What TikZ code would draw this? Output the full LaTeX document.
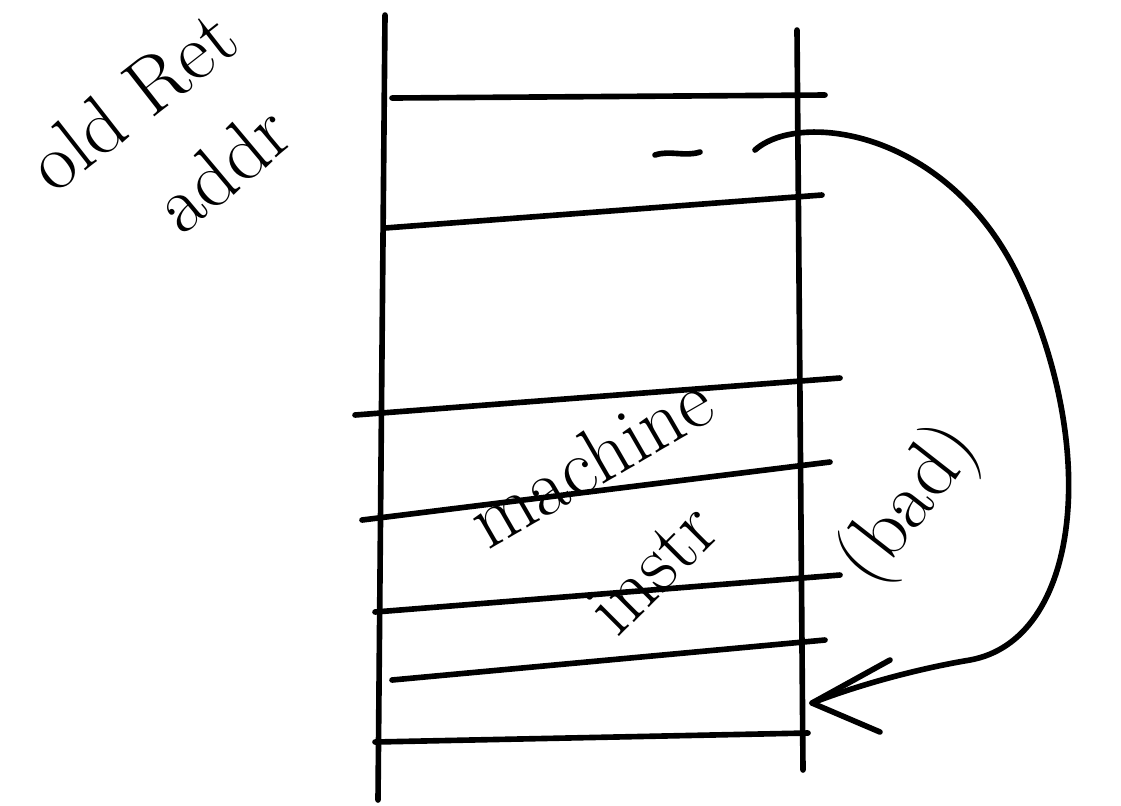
\documentclass[tikz,border=0pt]{standalone}
\usepackage{xcolor}
\definecolor{sketchink}{HTML}{000000}

\begin{document}
\begin{tikzpicture}[
  x=0.01cm,
  y=-0.01cm,
  every node/.style={font=\fontsize{23}{25}\selectfont, text=sketchink, inner sep=1pt},
  pen/.style={sketchink, line width=1.6pt, line cap=round, line join=round},
  >=stealth
]
  \useasboundingbox (0,0) rectangle (1121,805);

  % stack walls
  \draw[pen] (385,15) -- (378,800);
  \draw[pen] (797,30) -- (803,770);

  % slots
  \draw[pen] (392,98) -- (825,95);
  \draw[pen] (385,228) -- (822,195);
  \draw[pen] (355,415) -- (840,378);
  \draw[pen] (362,520) -- (830,462);
  \draw[pen] (375,612) -- (840,575);
  \draw[pen] (392,680) -- (825,640);
  \draw[pen] (375,742) -- (808,733);

  % small mark in the return slot
  \draw[pen] (655,155) .. controls (670,150) and (685,157) .. (700,152);

  % labels
  \node[rotate=38] (oldret) at (132,100) {old Ret};
  \node[rotate=40] (addr) at (222,168) {addr};
  \node[rotate=30] (mach) at (590,460) {machine};
  \node[rotate=45] (instr) at (652,568) {instr};
  \node[rotate=52] (bad) at (910,505) {(bad)};

  % jump arrow
  \coordinate (from) at (755,150);
  \coordinate (to) at (812,703);
  \draw[pen] (from) .. controls (800,110) and (950,130) .. (1020,280)
    .. controls (1100,450) and (1080,640) .. (970,660)
    .. controls (910,670) and (850,688) .. (to);
  \draw[pen] (890,660) -- (to) -- (880,732);
\end{tikzpicture}
\end{document}
